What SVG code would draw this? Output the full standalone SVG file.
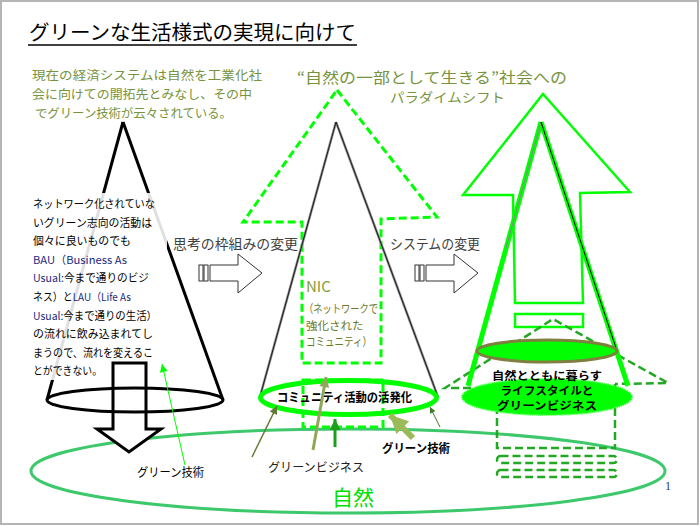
<svg xmlns="http://www.w3.org/2000/svg" width="700" height="526" viewBox="0 0 700 526">
<style>
.jp{font-family:"Noto Sans CJK JP","Liberation Sans",sans-serif}
.ol{fill:#77933C}
.nv{fill:#1a2a80}
.b{font-weight:bold}
.gdash{fill:none;stroke:#00ff00;stroke-width:3;stroke-dasharray:8 4}
.ddash{fill:none;stroke:#22a822;stroke-width:2.5;stroke-dasharray:8 4}
.hollow{fill:#fff;stroke:#333;stroke-width:1}
</style>
<defs>
<marker id="mOl" viewBox="0 0 10 10" refX="10" refY="5" markerWidth="9" markerHeight="8" markerUnits="userSpaceOnUse" orient="auto"><path d="M0,0L10,5L0,10z" fill="#5f7a32"/></marker>
<marker id="mLo" viewBox="0 0 10 10" refX="10" refY="5" markerWidth="11" markerHeight="10" markerUnits="userSpaceOnUse" orient="auto"><path d="M0,0L10,5L0,10z" fill="#8fa858"/></marker>
<marker id="mG" viewBox="0 0 10 10" refX="10" refY="5" markerWidth="11" markerHeight="11" markerUnits="userSpaceOnUse" orient="auto"><path d="M0,0L10,5L0,10z" fill="#1aa01a"/></marker>
<marker id="mBig" viewBox="0 0 10 10" refX="10" refY="5" markerWidth="18" markerHeight="18" markerUnits="userSpaceOnUse" orient="auto"><path d="M0,0L10,5L0,10z" fill="#9bbb59"/></marker>
<marker id="mDg" viewBox="0 0 10 10" refX="10" refY="5" markerWidth="8" markerHeight="6" markerUnits="userSpaceOnUse" orient="auto"><path d="M0,0L10,5L0,10z" fill="#3f7a2a"/></marker>
<marker id="mBr" viewBox="0 0 10 10" refX="10" refY="5" markerWidth="10" markerHeight="8" markerUnits="userSpaceOnUse" orient="auto"><path d="M0,0L10,5L0,10z" fill="#00ff00"/></marker>
</defs>
<rect x="1" y="1" width="697" height="523" fill="#fff" stroke="#b4b4b4" stroke-width="2"/>

<g id="title">
<text class="jp" x="29" y="40" font-size="20" textLength="327" lengthAdjust="spacingAndGlyphs">グリーンな生活様式の実現に向けて</text>
<line x1="28" y1="45" x2="357" y2="45" stroke="#000" stroke-width="1.5"/>
</g>

<g id="intro-text" class="jp ol" font-size="12.5">
<text x="32" y="80" textLength="230" lengthAdjust="spacingAndGlyphs">現在の経済システムは自然を工業化社</text>
<text x="32" y="99" textLength="220" lengthAdjust="spacingAndGlyphs">会に向けての開拓先とみなし、その中</text>
<text x="35" y="117.5" textLength="197" lengthAdjust="spacingAndGlyphs">でグリーン技術が云々されている。</text>
</g>

<g id="paradigm-text" class="jp ol">
<text x="297" y="82.5" font-size="15" textLength="270" lengthAdjust="spacingAndGlyphs">“自然の一部として生きる”社会への</text>
<text x="390" y="102" font-size="13" textLength="115" lengthAdjust="spacingAndGlyphs">パラダイムシフト</text>
</g>

<g id="nature">
<ellipse cx="348" cy="471" rx="317" ry="42" fill="none" stroke="#3ec86c" stroke-width="3"/>
<text class="jp" x="353" y="505" font-size="21" fill="#00e000" text-anchor="middle">自然</text>
</g>

<g id="left-cone">
<line x1="123" y1="122" x2="47" y2="400" stroke="#000" stroke-width="3"/>
<line x1="123" y1="122" x2="223" y2="400" stroke="#000" stroke-width="3"/>
<rect x="30" y="193" width="137" height="187" fill="#fff" opacity="0.88"/>
<g class="jp" font-size="11">
<text x="33" y="208" textLength="122" lengthAdjust="spacingAndGlyphs">ネットワーク化されていな</text>
<text x="33" y="227" textLength="119" lengthAdjust="spacingAndGlyphs">いグリーン志向の活動は</text>
<text x="33" y="245" textLength="98" lengthAdjust="spacingAndGlyphs">個々に良いものでも</text>
<text x="33" y="264" textLength="94" lengthAdjust="spacingAndGlyphs"><tspan class="nv">BAU（Business As</tspan></text>
<text x="33" y="282" textLength="116" lengthAdjust="spacingAndGlyphs"><tspan class="nv">Usual:</tspan>今まで通りのビジ</text>
<text x="33" y="301" textLength="98" lengthAdjust="spacingAndGlyphs">ネス）と<tspan class="nv">LAU（Life As</tspan></text>
<text x="33" y="320" textLength="124" lengthAdjust="spacingAndGlyphs"><tspan class="nv">Usual:</tspan>今まで通りの生活）</text>
<text x="33" y="338" textLength="120" lengthAdjust="spacingAndGlyphs">の流れに飲み込まれてし</text>
<text x="33" y="357" textLength="120" lengthAdjust="spacingAndGlyphs">まうので、流れを変えるこ</text>
<text x="33" y="375" textLength="69" lengthAdjust="spacingAndGlyphs">とができない。</text>
</g>
<polygon points="113,363 146,363 146,429 161,429 129,452 97,429 113,429" fill="#fff" stroke="#000" stroke-width="3" stroke-linejoin="miter"/>
<ellipse cx="135" cy="400" rx="88" ry="12" fill="none" stroke="#000" stroke-width="3"/>
</g>

<g id="arrow-thinking">
<text class="jp" x="173" y="249" font-size="14" fill="#404040" textLength="125" lengthAdjust="spacingAndGlyphs">思考の枠組みの変更</text>
<rect x="199" y="265" width="4" height="16" class="hollow" stroke="#000"/>
<rect x="204" y="265" width="4" height="16" class="hollow" stroke="#000"/>
<polygon points="210,265 238,265 238,254 262,273 238,293 238,281 210,281" class="hollow"/>
</g>

<g id="arrow-system">
<text class="jp" x="390" y="249" font-size="14" fill="#404040" textLength="90" lengthAdjust="spacingAndGlyphs">システムの変更</text>
<rect x="415" y="265" width="4" height="16" class="hollow" stroke="#000"/>
<rect x="420" y="265" width="4" height="16" class="hollow" stroke="#000"/>
<polygon points="426,265 454,265 454,254 478,273 454,293 454,281 426,281" class="hollow"/>
</g>

<g id="middle-arrow">
<polygon points="337,90 437,217 381,219 381,363 302,363 302,222 243,222" class="gdash"/>
<rect x="303" y="380" width="80" height="47" class="gdash"/>
</g>

<g id="nic-text" class="jp">
<text x="306" y="292" font-size="15" fill="#8a9a3a">NIC</text>
<text x="304" y="313" font-size="11.5" fill="#6b7a2a" textLength="74" lengthAdjust="spacingAndGlyphs">（ネットワークで</text>
<text x="306" y="330" font-size="11.5" fill="#6b7a2a">強化された</text>
<text x="306" y="346" font-size="11.5" fill="#6b7a2a" textLength="66" lengthAdjust="spacingAndGlyphs">コミュニティ）</text>
</g>

<g id="middle-cone">
<line x1="336" y1="122" x2="261" y2="393" stroke="#8a8a8a" stroke-width="2.5"/>
<line x1="336" y1="122" x2="438" y2="397" stroke="#8a8a8a" stroke-width="2.5"/>
<line x1="336" y1="122" x2="261" y2="393" stroke="#000" stroke-width="0.8"/>
<line x1="336" y1="122" x2="438" y2="397" stroke="#000" stroke-width="0.8"/>
</g>

<g id="community">
<ellipse cx="348.5" cy="397.5" rx="88" ry="17" fill="none" stroke="#00ff00" stroke-width="5"/>
<text class="jp b" x="277" y="402" font-size="12.5" textLength="135" lengthAdjust="spacingAndGlyphs">コミュニティ活動の活発化</text>
</g>

<g id="right-arrow">
<polygon points="543,94 630,192 580,193 583,303 515,303 513,195 463,195" fill="none" stroke="#00ff00" stroke-width="2.5"/>
<rect x="515" y="314" width="68" height="13" fill="none" stroke="#00ff00" stroke-width="2.5"/>
</g>

<g id="right-triangle">
<polyline points="495,388 445,388 553,319 668,383 615,384" class="ddash"/>
<polyline points="615,384 615,448 497,448 497,388" class="ddash"/>
<rect x="497" y="456" width="120" height="7" rx="3.5" class="ddash"/>
<rect x="497" y="470" width="120" height="7" rx="3.5" class="ddash"/>
</g>

<g id="right-cone">
<line x1="541" y1="122" x2="468" y2="386" stroke="#00ff00" stroke-width="5"/>
<line x1="541" y1="122" x2="628" y2="386" stroke="#00ff00" stroke-width="5"/>
<line x1="541" y1="122" x2="506" y2="248" stroke="#8a8a8a" stroke-width="1"/>
<line x1="541" y1="122" x2="616" y2="348" stroke="#000" stroke-width="1"/>
<ellipse cx="547" cy="351" rx="70" ry="11" fill="#00ff00" stroke="#7f7f3f" stroke-width="3"/>
</g>

<g id="lifestyle">
<ellipse cx="547" cy="397" rx="85" ry="18" fill="#00ff00" stroke="#33ff33" stroke-width="2" stroke-dasharray="1 1"/>
<g class="jp b" font-size="11" text-anchor="middle">
<text x="547" y="380" textLength="110" lengthAdjust="spacingAndGlyphs">自然とともに暮らす</text>
<text x="547" y="395" textLength="93" lengthAdjust="spacingAndGlyphs">ライフスタイルと</text>
<text x="547" y="410" textLength="100" lengthAdjust="spacingAndGlyphs">グリーンビジネス</text>
</g>
</g>

<g id="connectors">
<line x1="185" y1="465" x2="162" y2="364" stroke="#00ff00" stroke-width="1" marker-end="url(#mBr)"/>
<line x1="252" y1="457" x2="277" y2="406" stroke="#5f7a32" stroke-width="1.5" marker-end="url(#mOl)"/>
<line x1="313" y1="450" x2="326" y2="377" stroke="#8fa858" stroke-width="3" marker-end="url(#mLo)"/>
<line x1="335" y1="447" x2="335" y2="419" stroke="#1aa01a" stroke-width="3" marker-end="url(#mG)"/>
<line x1="413" y1="438" x2="390" y2="415" stroke="#9bbb59" stroke-width="6" marker-end="url(#mBig)"/>
<line x1="440" y1="427" x2="430" y2="407" stroke="#3f7a2a" stroke-width="1" marker-end="url(#mDg)"/>
</g>

<g id="labels" class="jp">
<text x="137" y="477" font-size="12" textLength="67" lengthAdjust="spacingAndGlyphs">グリーン技術</text>
<text x="268" y="472" font-size="12.5" fill="#222" textLength="96" lengthAdjust="spacingAndGlyphs">グリーンビジネス</text>
<text x="382" y="453" font-size="12" class="b" textLength="68" lengthAdjust="spacingAndGlyphs">グリーン技術</text>
<text x="665" y="490" font-size="12" fill="#1f3a6a" font-family="Liberation Serif,serif">1</text>
</g>
</svg>
